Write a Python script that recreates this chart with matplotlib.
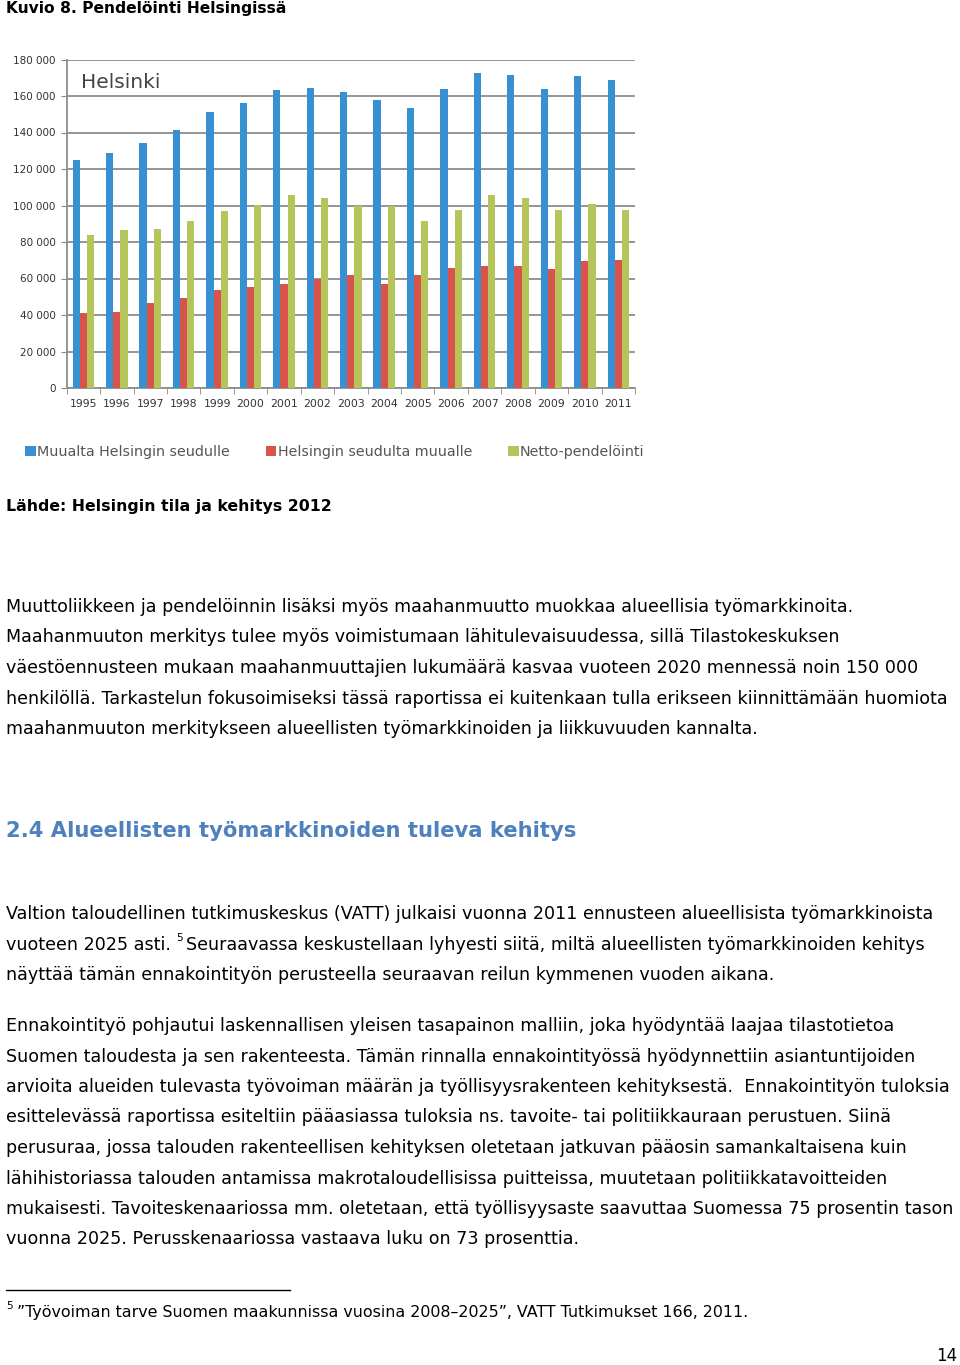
import matplotlib
matplotlib.use("Agg")
import matplotlib.pyplot as plt
import numpy as np

# ---- data ----
years = [str(y) for y in range(1995, 2012)]
muualta = [125000, 128700, 134000, 141600, 151500, 156000, 163400, 164300, 162300,
           157700, 153500, 163900, 172500, 171600, 163900, 171000, 168500]
seudulta = [41000, 41800, 46600, 49500, 53700, 55400, 57200, 60000, 62000,
            57200, 62000, 65800, 67000, 67000, 65200, 69800, 70400]
netto = [84000, 86800, 87200, 91700, 97200, 100500, 105600, 104000, 100000,
         100000, 91700, 97800, 105600, 104000, 97800, 101000, 97800]
series_names = ["Muualta Helsingin seudulle", "Helsingin seudulta muualle", "Netto-pendelöinti"]
yticks = [0, 20000, 40000, 60000, 80000, 100000, 120000, 140000, 160000, 180000]
ytick_labels = ["0", "20 000", "40 000", "60 000", "80 000", "100 000", "120 000",
                "140 000", "160 000", "180 000"]

title = "Kuvio 8. Pendelöinti Helsingissä"
source = "Lähde: Helsingin tila ja kehitys 2012"
para1 = [
    "Muuttoliikkeen ja pendelöinnin lisäksi myös maahanmuutto muokkaa alueellisia työmarkkinoita.",
    "Maahanmuuton merkitys tulee myös voimistumaan lähitulevaisuudessa, sillä Tilastokeskuksen",
    "väestöennusteen mukaan maahanmuuttajien lukumäärä kasvaa vuoteen 2020 mennessä noin 150 000",
    "henkilöllä. Tarkastelun fokusoimiseksi tässä raportissa ei kuitenkaan tulla erikseen kiinnittämään huomiota",
    "maahanmuuton merkitykseen alueellisten työmarkkinoiden ja liikkuvuuden kannalta.",
]
heading = "2.4 Alueellisten työmarkkinoiden tuleva kehitys"
para2 = [
    "Valtion taloudellinen tutkimuskeskus (VATT) julkaisi vuonna 2011 ennusteen alueellisista työmarkkinoista",
    "vuoteen 2025 asti.",
    "näyttää tämän ennakointityön perusteella seuraavan reilun kymmenen vuoden aikana.",
]
para2_after_note = "Seuraavassa keskustellaan lyhyesti siitä, miltä alueellisten työmarkkinoiden kehitys"
para3 = [
    "Ennakointityö pohjautui laskennallisen yleisen tasapainon malliin, joka hyödyntää laajaa tilastotietoa",
    "Suomen taloudesta ja sen rakenteesta. Tämän rinnalla ennakointityössä hyödynnettiin asiantuntijoiden",
    "arvioita alueiden tulevasta työvoiman määrän ja työllisyysrakenteen kehityksestä.  Ennakointityön tuloksia",
    "esittelevässä raportissa esiteltiin pääasiassa tuloksia ns. tavoite- tai politiikkauraan perustuen. Siinä",
    "perusuraa, jossa talouden rakenteellisen kehityksen oletetaan jatkuvan pääosin samankaltaisena kuin",
    "lähihistoriassa talouden antamissa makrotaloudellisissa puitteissa, muutetaan politiikkatavoitteiden",
    "mukaisesti. Tavoiteskenaariossa mm. oletetaan, että työllisyysaste saavuttaa Suomessa 75 prosentin tason",
    "vuonna 2025. Perusskenaariossa vastaava luku on 73 prosenttia.",
]
footnote = "”Työvoiman tarve Suomen maakunnissa vuosina 2008–2025”, VATT Tutkimukset 166, 2011."
page_no = "14"

colors = ["#3690d2", "#d9534b", "#b6c55a"]

W, H = 960, 1365
fig = plt.figure(figsize=(W / 100, H / 100), dpi=100)
fig.patch.set_facecolor("white")

def fx(px):
    return px / W

def fy(py):
    return 1 - py / H

# ---- chart ----
ax_l, ax_r, ax_t, ax_b = 66.7, 635, 59.5, 388
ax = fig.add_axes([fx(ax_l), fy(ax_b), fx(ax_r - ax_l), (ax_b - ax_t) / H])
x = np.arange(len(years))
bw = 0.215
for i, (vals, c) in enumerate(zip([muualta, seudulta, netto], colors)):
    ax.bar(x + (i - 1) * bw, vals, width=bw, color=c, zorder=3, label=series_names[i])
ax.set_xlim(-0.5, len(years) - 0.5)
ax.set_ylim(0, 180000)
ax.set_yticks(yticks)
ax.set_yticklabels(ytick_labels, fontsize=7.5, color="#333333")
ax.set_xticks(x)
ax.set_xticklabels(years, fontsize=7.8, color="#333333")
ax.tick_params(axis="x", length=0, pad=8)
ax.set_xticks(np.arange(-0.5, len(years)), minor=True)
ax.tick_params(axis="x", which="minor", length=4, color="#888888")
ax.tick_params(axis="y", length=4, color="#888888", pad=4)
ax.yaxis.grid(True, color="#8c8c8c", linewidth=1.3, zorder=0)
ax.set_axisbelow(True)
for s in ["top", "right"]:
    ax.spines[s].set_visible(False)
for s in ["left", "bottom"]:
    ax.spines[s].set_color("#8c8c8c")
    ax.spines[s].set_linewidth(1.3)
ax.text(0.025, 0.96, "Helsinki", transform=ax.transAxes, fontsize=14.5,
        color="#444444", va="top", ha="left")

# legend
handles, labels = ax.get_legend_handles_labels()
fig.legend(handles, labels, loc="center left", bbox_to_anchor=(fx(12), fy(452)),
           ncol=3, frameon=False, fontsize=10.3, handlelength=0.75, handleheight=0.75,
           handletextpad=0.1, columnspacing=2.5, labelcolor="#555555")

# ---- page text ----
body_fs = 12.6
fig.text(fx(6), fy(9), title, fontsize=11.2, fontweight="bold", va="center", ha="left")
fig.text(fx(6), fy(507), source, fontsize=11.3, fontweight="bold", va="center", ha="left")

y0 = 607
for i, line in enumerate(para1):
    fig.text(fx(6), fy(y0 + i * 30.5), line, fontsize=body_fs, va="center", ha="left")

fig.text(fx(6), fy(831), heading, fontsize=15.2, fontweight="bold", color="#4f81bd",
         va="center", ha="left")

y0 = 914
fig.text(fx(6), fy(y0), para2[0], fontsize=body_fs, va="center", ha="left")
t = fig.text(fx(6), fy(y0 + 30.5), para2[1], fontsize=body_fs, va="center", ha="left")
fig.canvas.draw()
bb = t.get_window_extent()
xe = bb.x1
fig.text((xe + 5) / W, fy(y0 + 24), "5", fontsize=7.5, va="center", ha="left")
fig.text((xe + 15) / W, fy(y0 + 30.5), para2_after_note, fontsize=body_fs, va="center", ha="left")
fig.text(fx(6), fy(y0 + 61), para2[2], fontsize=body_fs, va="center", ha="left")

y0 = 1026
for i, line in enumerate(para3):
    fig.text(fx(6), fy(y0 + i * 30.5), line, fontsize=body_fs, va="center", ha="left")

fig.add_artist(plt.Line2D([fx(6), fx(290)], [fy(1290), fy(1290)], color="black", linewidth=1))
fig.text(fx(6), fy(1306), "5", fontsize=7.5, va="center", ha="left")
fig.text(fx(17), fy(1313), footnote, fontsize=11.4, va="center", ha="left")
fig.text(fx(957), fy(1356), page_no, fontsize=12, va="center", ha="right")

fig.savefig("out.png", dpi=100)
